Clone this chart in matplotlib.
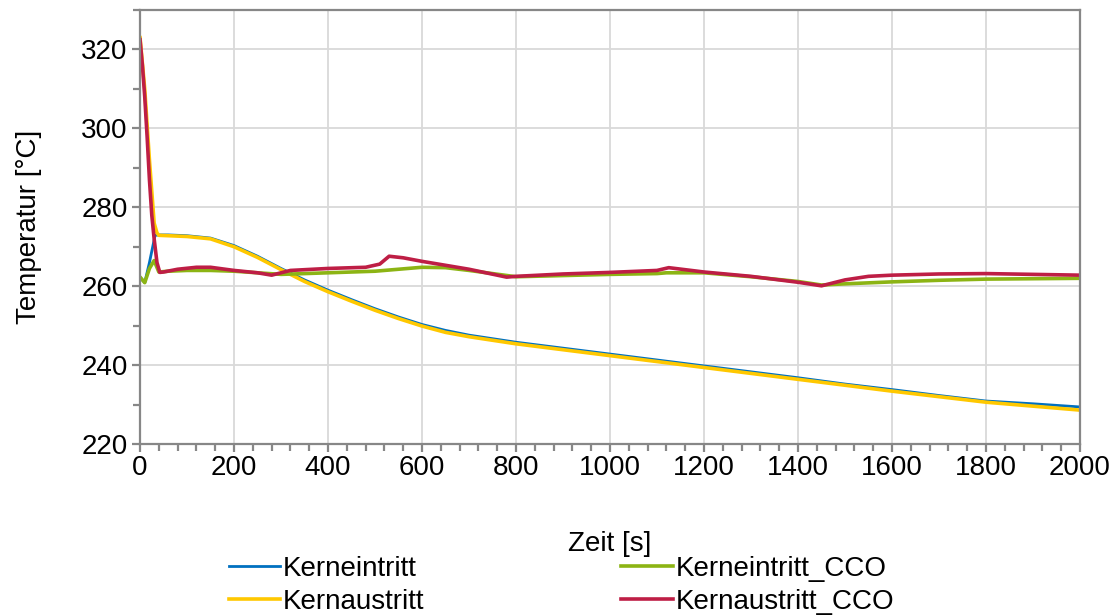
import matplotlib
matplotlib.use("Agg")
import matplotlib.pyplot as plt
from matplotlib.ticker import MultipleLocator

plt.rcParams['font.family'] = ['Liberation Sans', 'DejaVu Sans']

# Core inlet / outlet temperatures (reference run)
t_kern = [0, 10, 20, 32, 40, 60, 100, 150, 200, 250, 300, 350, 400, 450, 500,
          550, 600, 650, 700, 800, 900, 1000, 1100, 1200, 1300, 1400, 1500,
          1600, 1700, 1800, 1900, 2000]
kerneintritt = [262.3, 260.9, 266.0, 272.9, 273.0, 273.0, 272.8, 272.2, 270.3,
                267.6, 264.5, 261.6, 259.0, 256.6, 254.3, 252.2, 250.3, 248.8,
                247.6, 245.8, 244.3, 242.8, 241.3, 239.8, 238.3, 236.8, 235.2,
                233.8, 232.3, 230.9, 230.2, 229.4]
t_aus = [0, 10, 20, 30, 36, 40, 60, 100, 150, 200, 250, 300, 350, 400, 450,
         500, 550, 600, 650, 700, 800, 900, 1000, 1100, 1200, 1300, 1400,
         1500, 1600, 1700, 1800, 1900, 2000]
kernaustritt = [323.0, 310.0, 292.0, 276.0, 273.5, 272.9, 272.8, 272.6, 272.0,
                270.0, 267.3, 264.2, 261.2, 258.6, 256.2, 253.9, 251.8, 249.9,
                248.3, 247.2, 245.4, 243.9, 242.4, 240.9, 239.4, 237.9, 236.4,
                234.9, 233.4, 232.0, 230.6, 229.6, 228.6]

# Same quantities with CCO
t_cco_ein = [0, 10, 20, 30, 40, 60, 100, 150, 200, 250, 300, 400, 500, 600,
             650, 700, 800, 900, 1000, 1100, 1120, 1200, 1300, 1400, 1450,
             1500, 1600, 1700, 1800, 1900, 2000]
kerneintritt_cco = [262.3, 260.9, 264.5, 266.5, 263.6, 263.8, 264.0, 264.0,
                    263.8, 263.4, 263.0, 263.4, 263.8, 264.8, 264.7, 264.0,
                    262.4, 262.7, 263.0, 263.2, 263.4, 263.4, 262.4, 261.2,
                    260.3, 260.6, 261.1, 261.5, 261.8, 261.9, 262.0]
t_cco_aus = [0, 5, 10, 15, 20, 25, 30, 36, 42, 50, 80, 120, 150, 200, 250,
             280, 320, 400, 480, 510, 530, 560, 600, 700, 780, 800, 900, 1000,
             1100, 1125, 1200, 1300, 1400, 1450, 1500, 1550, 1600, 1700, 1800,
             1900, 2000]
kernaustritt_cco = [322.5, 316.0, 308.0, 298.0, 287.0, 278.0, 272.0, 266.0,
                    263.5, 263.6, 264.3, 264.8, 264.8, 264.0, 263.4, 262.8,
                    264.0, 264.5, 264.8, 265.6, 267.6, 267.2, 266.3, 264.3,
                    262.3, 262.5, 263.1, 263.5, 264.0, 264.7, 263.6, 262.5,
                    261.0, 260.1, 261.6, 262.5, 262.8, 263.1, 263.2, 263.0,
                    262.8]

series = [
    ("Kerneintritt", t_kern, kerneintritt, "#0070C0", 2.0),
    ("Kernaustritt", t_aus, kernaustritt, "#FFC800", 2.6),
    ("Kerneintritt_CCO", t_cco_ein, kerneintritt_cco, "#8CB414", 2.6),
    ("Kernaustritt_CCO", t_cco_aus, kernaustritt_cco, "#BE1E45", 2.6),
]

FS = 20

fig = plt.figure(figsize=(11.15, 6.15), dpi=100)
ax = fig.add_axes([0.1256, 0.278, 0.843, 0.7057])

lines = []
for name, t, y, c, lw in series:
    ln, = ax.plot(t, y, color=c, lw=lw, label=name, solid_joinstyle='round')
    lines.append(ln)

ax.set_xlim(0, 2000)
ax.set_ylim(220, 330)
ax.xaxis.set_major_locator(MultipleLocator(200))
ax.xaxis.set_minor_locator(MultipleLocator(40))
ax.yaxis.set_minor_locator(MultipleLocator(10))
ax.set_yticks([220, 240, 260, 280, 300, 320])

ax.grid(True, which='major', color='#D9D9D9', lw=1.3)
ax.set_axisbelow(True)
for s in ax.spines.values():
    s.set_color('#878787')
    s.set_linewidth(1.6)

ax.tick_params(axis='both', which='major', direction='out', length=6,
               width=1.6, color='#878787', labelsize=FS)
ax.tick_params(axis='x', which='major', pad=2)
ax.tick_params(axis='y', which='major', pad=3)
ax.tick_params(axis='both', which='minor', direction='out', length=5,
               width=1.6, color='#878787')

ax.set_xlabel("Zeit [s]", fontsize=FS, labelpad=36)
ax.set_ylabel("Temperatur [°C]", fontsize=FS, labelpad=28)

fig.legend(lines, [l.get_label() for l in lines], ncol=2, loc='lower center',
           bbox_to_anchor=(0.5037, -0.04), frameon=False, fontsize=FS,
           handlelength=1.85, handletextpad=0.1, columnspacing=7.08,
           labelspacing=0.25)

fig.savefig("out.png", dpi=100)
